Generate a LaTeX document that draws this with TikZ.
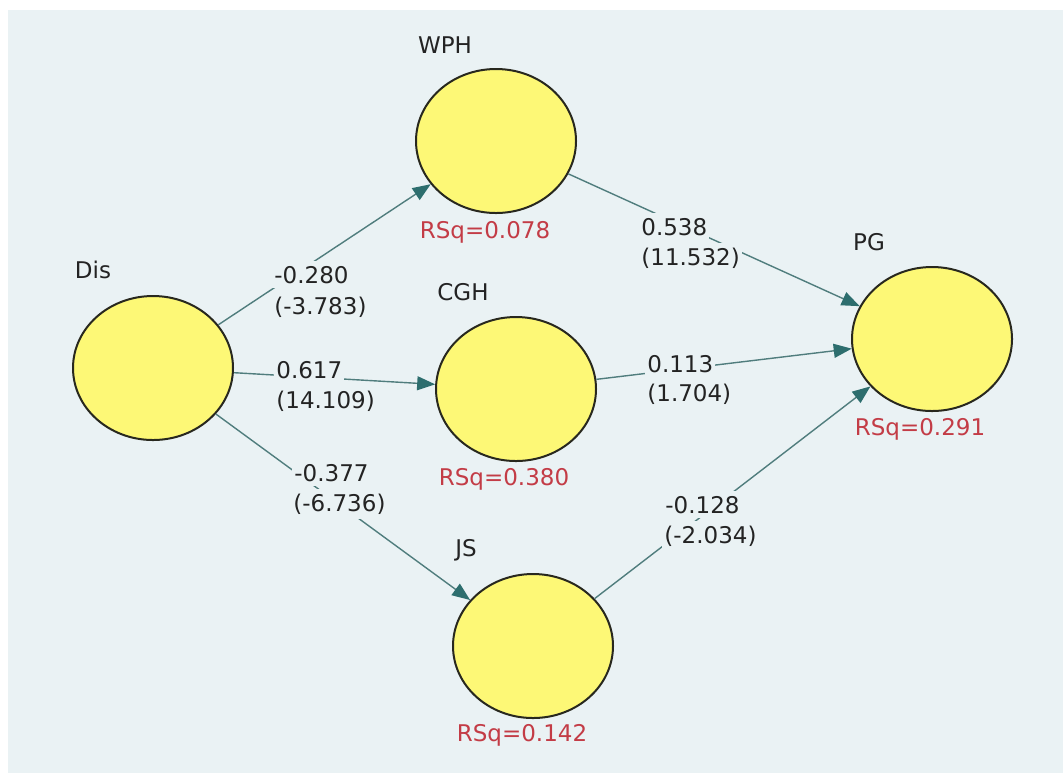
\documentclass[tikz,border=0pt]{standalone}
\usepackage{fontspec}
\setmainfont{DejaVu Sans}
\usetikzlibrary{shapes.geometric,arrows.meta}
\definecolor{bgc}{RGB}{234,242,244}
\definecolor{yel}{RGB}{253,248,118}
\definecolor{outl}{RGB}{40,40,30}
\definecolor{edgec}{RGB}{80,125,125}
\definecolor{tipc}{RGB}{45,110,110}
\definecolor{rsqc}{RGB}{195,60,70}
\definecolor{txt}{RGB}{35,35,35}
\begin{document}
\begin{tikzpicture}[x=0.5pt,y=-0.5pt,
  latent/.style={ellipse,draw=outl,line width=1pt,fill=yel,minimum width=80pt,minimum height=72pt,inner sep=0pt},
  conn/.style={draw=edgec,line width=0.7pt,-{Triangle[length=9pt,width=7pt,fill=tipc,color=tipc]}},
  lbl/.style={font=\fontsize{11.5}{14}\selectfont,text=txt,inner sep=0pt,anchor=base},
  coef/.style={lbl,anchor=base west,fill=bgc,inner xsep=1pt,inner ysep=2.5pt},
  rsq/.style={lbl,text=rsqc}]
\useasboundingbox (0,0) rectangle (1063,773);
\fill[white] (0,0) rectangle (1063,773);
\fill[bgc] (8,10) rectangle (1063,773);

% constructs
\node[latent] (Dis) at (153,368) {};
\node[latent] (WPH) at (496,141) {};
\node[latent] (CGH) at (516,389) {};
\node[latent] (JS)  at (533,646) {};
\node[latent] (PG)  at (932,339) {};

% names
\node[lbl] (tDis) at (93,278) {Dis};
\node[lbl] (tWPH) at (445,53) {WPH};
\node[lbl] (tCGH) at (463,300) {CGH};
\node[lbl] (tPG)  at (869,250) {PG};
\node[lbl] (tJS)  at (466,556) {JS};

% R squared
\node[rsq] (rWPH) at (485,238) {RSq=0.078};
\node[rsq] (rCGH) at (504,485) {RSq=0.380};
\node[rsq] (rJS)  at (522,741) {RSq=0.142};
\node[rsq] (rPG)  at (920,435) {RSq=0.291};

% paths
\draw[conn] (Dis) -- (WPH);
\draw[conn] (Dis) -- (CGH);
\draw[conn] (Dis) -- (JS);
\draw[conn] (WPH) -- (PG);
\draw[conn] (CGH) -- (PG);
\draw[conn] (JS) -- (PG);

% path coefficients
\node[coef] (c1a) at (272,283) {-0.280};
\node[coef] (c1b) at (272,314) {(-3.783)};
\node[coef] (c2a) at (274,378) {0.617};
\node[coef] (c2b) at (274,408) {(14.109)};
\node[coef] (c3a) at (292,481) {-0.377};
\node[coef] (c3b) at (291,511) {(-6.736)};
\node[coef] (c4a) at (639,235) {0.538};
\node[coef] (c4b) at (639,265) {(11.532)};
\node[coef] (c5a) at (645,372) {0.113};
\node[coef] (c5b) at (645,401) {(1.704)};
\node[coef] (c6a) at (663,513) {-0.128};
\node[coef] (c6b) at (662,543) {(-2.034)};
\end{tikzpicture}
\end{document}
